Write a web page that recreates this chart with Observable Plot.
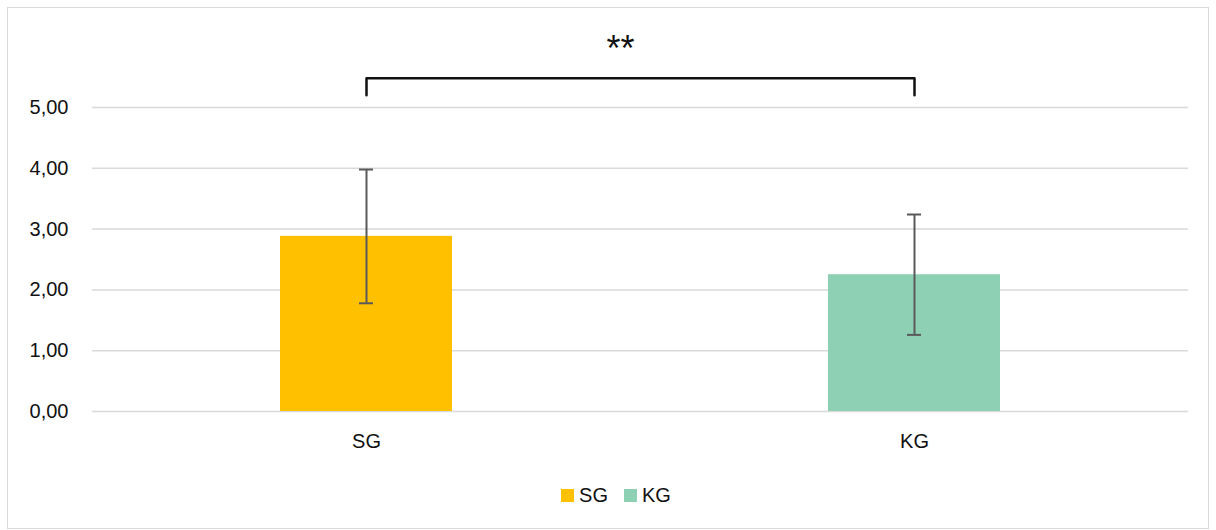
<!DOCTYPE html>
<html>
<head>
<meta charset="utf-8">
<script src="https://cdn.jsdelivr.net/npm/d3@7"></script>
<script src="https://cdn.jsdelivr.net/npm/@observablehq/plot@0.6"></script>
<style>
  body { margin: 0; background: #fff; font-family: "Liberation Sans", Arial, sans-serif; }
  #frame { position: absolute; left: 7px; top: 7px; width: 1200px; height: 520px; border: 1px solid #d9d9d9; background: #fff; }
  #legend { position: absolute; left: 8px; top: 476px; width: 1200px; display: flex; justify-content: center; gap: 16px; font-size: 20px; color: #111; }
  .item { display: flex; align-items: center; gap: 5px; }
  .sw { width: 13px; height: 13px; display: inline-block; }
</style>
</head>
<body>
<div id="frame"><div id="chart"></div><div id="legend"></div></div>
<script>
const groups = ["SG", "KG"];
const means = [2.88, 2.25];
const sds = [1.10, 0.99];
const colors = ["#FFC000", "#8ED0B4"];
const yTicks = [0, 1, 2, 3, 4, 5];
const bracketLow = 5.2;
const bracketHigh = 5.48;
const sigLabel = "**";
const sigY = 6.0;

const data = groups.map((g, i) => ({group: g, mean: means[i], lo: means[i] - sds[i], hi: means[i] + sds[i]}));
const bracket = [
  {group: groups[0], y: bracketLow},
  {group: groups[0], y: bracketHigh},
  {group: groups[1], y: bracketHigh},
  {group: groups[1], y: bracketLow}
];
const fmt = d => d.toFixed(2).replace(".", ",");

const chart = Plot.plot({
  width: 1200,
  height: 460,
  marginLeft: 84,
  marginRight: 20,
  marginTop: 99,
  marginBottom: 57,
  style: {fontFamily: "Liberation Sans, Arial, sans-serif", fontSize: "20px", color: "#111", background: "#fff"},
  x: {domain: groups, padding: 0, label: null, tickSize: 0, tickPadding: 22},
  y: {domain: [0, 5], ticks: yTicks, tickFormat: fmt, label: null, tickSize: 0, tickPadding: 24},
  color: {domain: groups, range: colors},
  marks: [
    Plot.gridY(yTicks, {stroke: "#d9d9d9", strokeOpacity: 1, strokeWidth: 1.5}),
    Plot.barY(data, {x: "group", y: "mean", fill: "group", insetLeft: 188, insetRight: 188}),
    Plot.ruleX(data, {x: "group", y1: "lo", y2: "hi", stroke: "#595959", strokeWidth: 2}),
    Plot.tickY(data, {x: "group", y: "lo", stroke: "#595959", strokeWidth: 2, insetLeft: 267, insetRight: 267}),
    Plot.tickY(data, {x: "group", y: "hi", stroke: "#595959", strokeWidth: 2, insetLeft: 267, insetRight: 267}),
    Plot.line(bracket, {x: "group", y: "y", stroke: "#111", strokeWidth: 2.5, curve: "linear"}),
    Plot.text([sigLabel], {y: () => sigY, text: d => d, dx: -20, dy: 3, fontSize: 36, fill: "#111"})
  ]
});
document.getElementById("chart").appendChild(chart);

const legend = document.getElementById("legend");
groups.forEach((g, i) => {
  const it = document.createElement("div");
  it.className = "item";
  it.innerHTML = `<span class="sw" style="background:${colors[i]}"></span><span>${g}</span>`;
  legend.appendChild(it);
});
</script>
</body>
</html>
